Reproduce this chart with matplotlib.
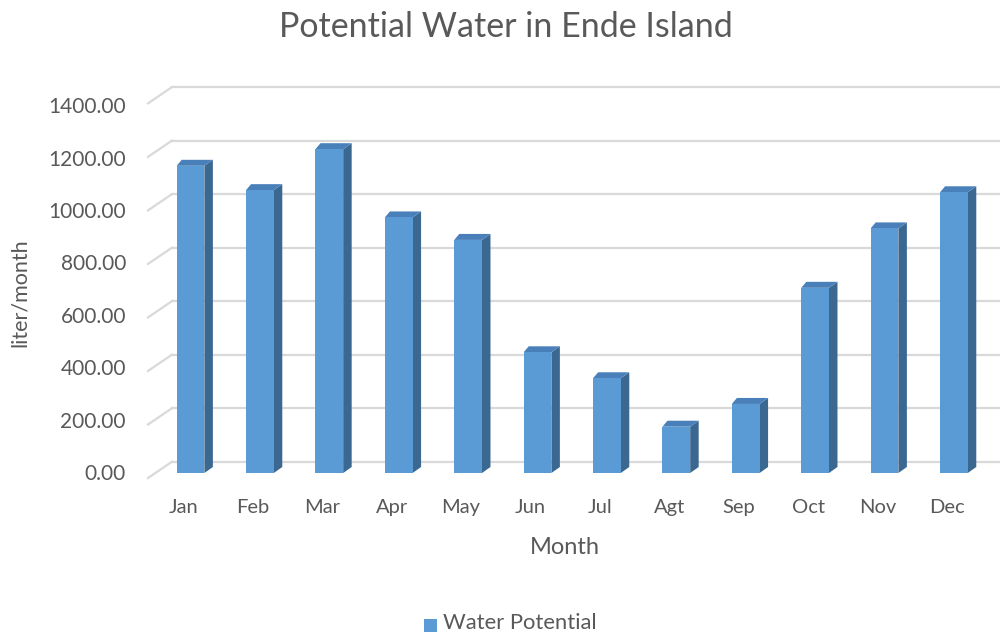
#!/usr/bin/env python3

import numpy as np
import matplotlib.pyplot as plt
from matplotlib.patches import Polygon, Rectangle

months = ["Jan", "Feb", "Mar", "Apr", "May", "Jun", "Jul", "Agt", "Sep", "Oct", "Nov", "Dec"]
water_potential = [1148, 1057, 1210, 955, 871, 451, 354, 173, 258, 692, 914, 1049]
y_ticks = [0, 200, 400, 600, 800, 1000, 1200, 1400]

plt.rcParams['font.family'] = ['Lato', 'DejaVu Sans']

W, H = 1000, 635
fig = plt.figure(figsize=(W / 100, H / 100), dpi=100)
ax = fig.add_axes([0, 0, 1, 1])

# pixel <-> data mapping (category units along x, value units along y)
x0_px, step_px = 190.5, 69.4      # centre of first bar front face, bar spacing
y0_px, scale_px = 473.0, 0.2676    # bar front floor, px per unit
ax.set_xlim((0 - x0_px) / step_px, (W - x0_px) / step_px)
ax.set_ylim((y0_px - H) / scale_px, y0_px / scale_px)
ax.axis('off')

def px_x(dx):
    return dx / step_px

def px_y(dy):
    return dy / scale_px

grid_col = '#d9d9d9'
txt_col = '#595959'
# back wall gridlines and left wall edges
back_dx, back_dy = px_x(172 - x0_px), px_y(y0_px - 461.7)
front_dx, front_dy = px_x(148 - x0_px), px_y(y0_px - 478.0)
for v in y_ticks:
    ax.plot([back_dx, 20], [v + back_dy, v + back_dy], color=grid_col, lw=1.6, zorder=1)
    ax.plot([front_dx, back_dx], [v + front_dy, v + back_dy], color=grid_col, lw=1.6, zorder=1)
    ax.text(px_x(126 - x0_px), px_y(y0_px - 474) + v * 0.262 / scale_px, f"{v:.2f}",
            ha='right', va='center', fontsize=15, color=txt_col)

# 3D-looking bars
bw = 0.4
ddx, ddy = px_x(8.5), px_y(6)
front_c, side_c, top_c = '#5b9bd5', '#3b6891', '#4a80ba'
for i, v in enumerate(water_potential):
    l, r = i - bw / 2, i + bw / 2
    ax.add_patch(Polygon([(r, 0), (r + ddx, ddy), (r + ddx, v + ddy), (r, v)],
                         closed=True, fc=side_c, ec='none', zorder=3))
    ax.add_patch(Polygon([(l, v), (r, v), (r + ddx, v + ddy), (l + ddx * 0.6, v + ddy)],
                         closed=True, fc=top_c, ec='none', zorder=3))
    ax.add_patch(Rectangle((l, 0), bw, v, fc=front_c, ec='none', zorder=4))
    ax.text(i - px_x(7), px_y(y0_px - 507.5), months[i], ha='center', va='center',
            fontsize=14.5, color=txt_col)

ax.text(px_x(565 - x0_px), px_y(y0_px - 548), "Month", ha='center', va='center',
        fontsize=17, color=txt_col)
ax.text(px_x(20 - x0_px), px_y(y0_px - 293), "liter/month", ha='center', va='center',
        rotation=90, fontsize=15.5, color=txt_col)
ax.text(px_x(505.5 - x0_px), px_y(y0_px - 27), "Potential Water in Ende Island", ha='center',
        va='center', fontsize=24.5, color=txt_col)

# legend
ax.add_patch(Rectangle((px_x(424 - x0_px), px_y(y0_px - 631.5)), px_x(13), px_y(13),
                       fc=front_c, ec='none'))
ax.text(px_x(443 - x0_px), px_y(y0_px - 623), "Water Potential", ha='left', va='center',
        fontsize=15.8, color=txt_col)

fig.savefig('out.png', dpi=100)
